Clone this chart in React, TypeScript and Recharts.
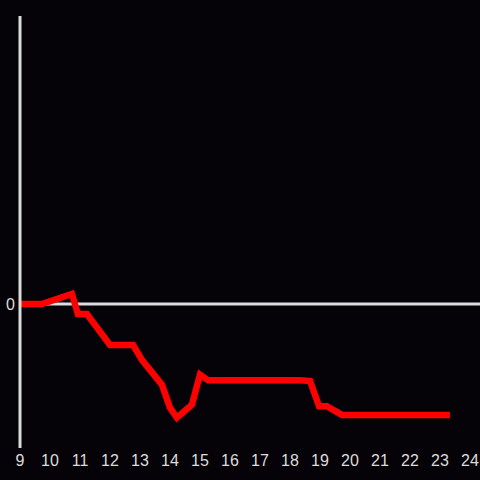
import { LineChart, Line, XAxis, YAxis, ReferenceLine } from "recharts";

const hours = [9, 9.73, 10.73, 10.93, 11.23, 12.0, 12.77, 13.07, 13.73, 14.0, 14.23, 14.73, 15.0, 15.27, 18.33, 18.67, 18.97, 19.23, 19.73, 23.33];
const values = [0, 0, 0.07, -0.07, -0.07, -0.285, -0.285, -0.39, -0.56, -0.72, -0.79, -0.7, -0.49, -0.53, -0.53, -0.535, -0.71, -0.71, -0.77, -0.77];
const xTicks = [9, 10, 11, 12, 13, 14, 15, 16, 17, 18, 19, 20, 21, 22, 23, 24];

const data = hours.map((h, i) => ({ h, v: values[i] }));

const AXIS = "#dcdcdc";
const FONT = "'Liberation Sans', Arial, sans-serif";

const ZeroLine = (props: any) => (
  <line x1={props.x1} y1={props.y1} x2={props.x2 + 10} y2={props.y2} stroke={AXIS} strokeWidth={3} />
);

export default function App() {
  return (
    <div style={{ position: "absolute", left: 0, top: 0, width: 480, height: 480, background: "#050307" }}>
      <LineChart width={480} height={480} data={data} margin={{ top: 16, right: 10, bottom: 0, left: 0 }}>
        <ReferenceLine y={0} shape={ZeroLine} />
        <Line type="linear" dataKey="v" stroke="#ff0000" strokeWidth={6.5} dot={false} isAnimationActive={false} />
        <XAxis dataKey="h" type="number" domain={[9, 24]} ticks={xTicks} axisLine={false} tickLine={false}
          height={32} tickSize={5} tick={{ fill: AXIS, fontSize: 16, fontFamily: FONT }} interval={0} />
        <YAxis type="number" domain={[-1, 2]} ticks={[0]} width={20} tickLine={false} tickSize={3}
          axisLine={{ stroke: AXIS, strokeWidth: 3 }} tick={{ fill: AXIS, fontSize: 16, fontFamily: FONT }} />
      </LineChart>
    </div>
  );
}
